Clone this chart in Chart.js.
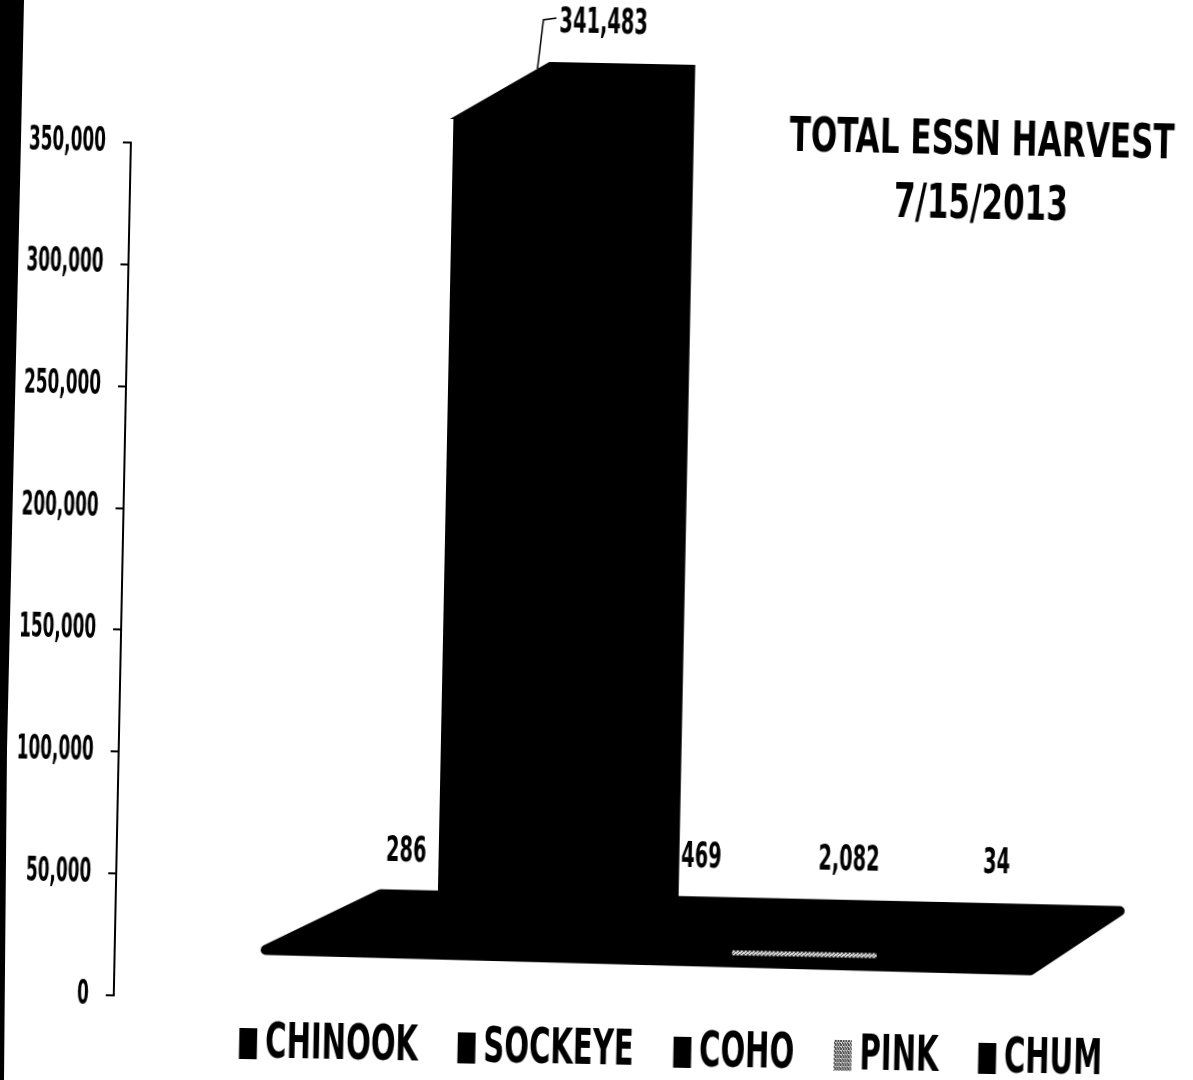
<!DOCTYPE html>
<html>
<head>
<meta charset="utf-8">
<script src="https://cdn.jsdelivr.net/npm/chart.js@4.4.1/dist/chart.umd.min.js"></script>
<style>
  body { margin: 0; background: #fff; overflow: hidden; }
  /* the original is a slightly tilted scan */
  #wrap { position: relative; width: 1193px; height: 1080px;
          transform: rotate(1.15deg); transform-origin: 596.5px 540px; }
  #box { position: absolute; left: 0; top: 0; width: 1207px; height: 1080px; }
  #edge { position: absolute; left: 0; top: 0; width: 24px; height: 1080px; background: #000;
          clip-path: polygon(0 0, 24px 0, 21px 140px, 7px 750px, 4px 1080px, 0 1080px); }
  .cond { font-family: 'DejaVu Sans Condensed', 'Liberation Sans Narrow', sans-serif;
          font-weight: bold; color: #000; white-space: nowrap; }
  #title { position: absolute; left: 674px; top: 98px; width: 600px; text-align: center;
           font-size: 48px; line-height: 64px;
           transform: scaleX(0.72); transform-origin: 50% 0; }
  #legend { position: absolute; left: -69px; top: 1023px; width: 1500px; text-align: center;
            font-size: 49px; line-height: 49px;
            transform: scaleX(0.66); transform-origin: 50% 0; }
  #legend .item { display: inline-block; margin: 0 30px; }
  #legend .box { display: inline-block; width: 27px; height: 31px; margin-right: 12px;
                 vertical-align: -2px; }
</style>
</head>
<body>
<div id="wrap">
  <div id="box"><canvas id="myChart"></canvas></div>
  <div id="title" class="cond">TOTAL ESSN HARVEST<br>7/15/2013</div>
  <div id="legend" class="cond"></div>
</div>
<div id="edge"></div>
<script>
var FONT = "'DejaVu Sans Condensed', 'Liberation Sans Narrow', sans-serif";

var categories = ['7/15/2013'];
var species = ['CHINOOK', 'SOCKEYE', 'COHO', 'PINK', 'CHUM'];
var harvest = [286, 341483, 469, 2082, 34];
var speciesColors = ['#000', '#000', '#000', 'dither', '#000'];
var yMax = 350000;
var yStep = 50000;

// depth of the fake 3D extrusion
var DX = 95, DY = -57;

function getDither() {
  var c = document.createElement('canvas');
  c.width = 4; c.height = 4;
  var g = c.getContext('2d');
  g.fillStyle = '#d8d8d8';
  g.fillRect(0, 0, 4, 4);
  g.fillStyle = '#555';
  g.fillRect(0, 0, 1, 1); g.fillRect(2, 1, 1, 1); g.fillRect(1, 2, 1, 1); g.fillRect(3, 3, 1, 1);
  g.fillRect(3, 0, 1, 1); g.fillRect(0, 3, 1, 1);
  return g.createPattern(c, 'repeat');
}

function getColor(c) {
  return c === 'dither' ? getDither() : c;
}

function getLegend() {
  var html = '';
  for (var i = 0; i < species.length; i++) {
    var bg = speciesColors[i] === 'dither'
      ? 'background: repeating-conic-gradient(#444 0 25%, #e0e0e0 0 50%) 0 0/4px 4px;'
      : 'background:' + speciesColors[i] + ';';
    html += '<span class="item"><span class="box" style="' + bg + '"></span>' + species[i] + '</span>';
  }
  document.getElementById('legend').innerHTML = html;
}

function getDatasets() {
  var sets = [];
  for (var i = 0; i < species.length; i++) {
    sets.push({
      label: species[i],
      data: [harvest[i]],
      backgroundColor: getColor(speciesColors[i]),
      borderWidth: 0,
      yAxisID: 'yb',
      clip: false,
      categoryPercentage: 0.681,
      barPercentage: 0.98
    });
  }
  return sets;
}

// narrow text, like the bold condensed font of the original
function narrowText(ctx, text, x, y, size, squeeze, align) {
  ctx.save();
  ctx.translate(x, y);
  ctx.scale(squeeze, 1);
  ctx.font = 'bold ' + size + 'px ' + FONT;
  ctx.textAlign = align;
  ctx.textBaseline = 'middle';
  ctx.fillText(text, 0, 0);
  ctx.restore();
}

var floor3d = {
  id: 'floor3d',
  beforeDatasetsDraw: function(chart) {
    var ctx = chart.ctx;
    var a = chart.chartArea;
    var y0 = chart.scales.yb.getPixelForValue(0);
    ctx.save();
    ctx.fillStyle = '#000';
    ctx.strokeStyle = '#000';
    ctx.lineJoin = 'round';
    ctx.lineWidth = 10;
    ctx.beginPath();
    ctx.moveTo(a.left + 265, y0 + DY + 3);
    ctx.lineTo(a.right - 80, y0 + DY + 5);
    ctx.lineTo(a.right - 168, y0 + 9);
    ctx.lineTo(a.left + 151, y0 + 4);
    ctx.closePath();
    ctx.fill();
    ctx.stroke();
    ctx.restore();
  },
  afterDatasetsDraw: function(chart) {
    var ctx = chart.ctx;
    var y0 = chart.scales.yb.getPixelForValue(0);
    var bars = chart.data.datasets.map(function(ds, i) { return chart.getDatasetMeta(i).data[0]; });
    ctx.save();
    ctx.fillStyle = '#000';
    ctx.strokeStyle = '#000';
    ctx.lineWidth = 2;
    // top and side faces of the tall bars
    bars.forEach(function(bar) {
      var l = bar.x - bar.width / 2, r = bar.x + bar.width / 2, t = bar.y;
      if (y0 - t > 30) {
        ctx.beginPath();
        ctx.moveTo(l, t);
        ctx.lineTo(l + DX, t + DY);
        ctx.lineTo(r + DX, t + DY);
        ctx.lineTo(r + DX, y0 + DY);
        ctx.lineTo(r, y0);
        ctx.lineTo(r, t);
        ctx.closePath();
        ctx.fill();
        ctx.stroke();
        ctx.fillRect(l, t, r - l, y0 - t);
      }
    });
    // value labels
    bars.forEach(function(bar, i) {
      var l = bar.x - bar.width / 2, t = bar.y;
      var tall = y0 - t > 30;
      var lx = tall ? bar.x + DX * 0.8 : bar.x + DX * 0.45;
      var ly = tall ? t + DY - 40 : y0 + DY - 40;
      if (tall) {
        ctx.lineWidth = 1.5;
        ctx.beginPath();
        ctx.moveTo(l + DX - 12, t + DY + 6);
        ctx.lineTo(l + DX - 7, ly - 3);
        ctx.lineTo(l + DX + 6, ly - 5);
        ctx.stroke();
      }
      narrowText(ctx, harvest[i].toLocaleString('en-US'), lx, ly, 36, 0.6, 'center');
    });
    ctx.restore();
  },
  afterDraw: function(chart) {
    // y tick labels, placed from the axis ticks
    var ctx = chart.ctx;
    var s = chart.scales.y;
    ctx.save();
    ctx.fillStyle = '#000';
    s.ticks.forEach(function(tk, i) {
      narrowText(ctx, tk.label, s.right - 25, s.getPixelForTick(i), 33, 0.57, 'right');
    });
    ctx.restore();
  }
};

function getChart() {
  var ctx = document.getElementById('myChart').getContext('2d');
  var myChart = new Chart(ctx, {
    type: 'bar',
    data: {
      labels: categories,
      datasets: getDatasets()
    },
    options: {
      responsive: true,
      maintainAspectRatio: false,
      animation: false,
      layout: { padding: { top: 152, left: 10, right: 0, bottom: 75 } },
      plugins: {
        tooltip: { enabled: false },
        legend: { display: false }
      },
      scales: {
        x: { display: false },
        y: {
          position: 'left',
          min: 0,
          max: yMax,
          afterFit: function(scale) { scale.width = 113; },
          ticks: {
            display: false,
            stepSize: yStep
          },
          grid: { drawOnChartArea: false, drawTicks: true, tickLength: 8, color: '#000', lineWidth: 2 },
          border: { display: true, color: '#000', width: 2 }
        },
        yb: {
          display: false,
          min: -21560,
          max: 328750
        }
      }
    },
    plugins: [floor3d]
  });
}

getLegend();
getChart();
</script>
</body>
</html>
